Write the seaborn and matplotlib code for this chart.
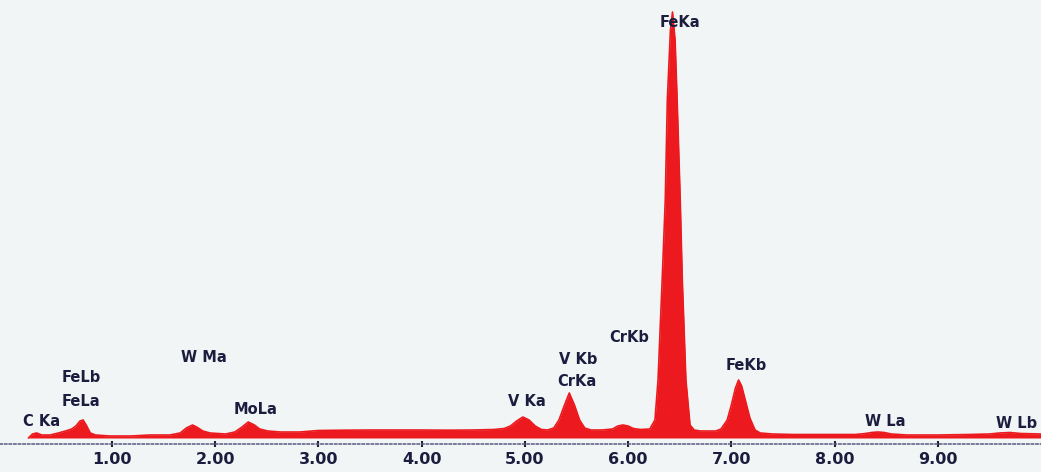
import numpy as np
import pandas as pd
import matplotlib
matplotlib.use("Agg")
import matplotlib.pyplot as plt
import seaborn as sns

# Spectrum (energy in keV, counts)
energy = [
    0.19, 0.23, 0.27, 0.32, 0.40, 0.48, 0.55, 0.61, 0.65, 0.69, 0.72, 0.75, 0.79, 0.84,
    0.98, 1.18, 1.37, 1.56, 1.66, 1.72, 1.78, 1.82, 1.88, 1.95, 2.10, 2.19, 2.26, 2.32,
    2.38, 2.43, 2.51, 2.63, 2.82, 3.00, 3.25, 3.50, 3.75, 4.00, 4.25, 4.50, 4.70, 4.80,
    4.86, 4.92, 4.98, 5.04, 5.10, 5.16, 5.22, 5.28, 5.33, 5.38, 5.43, 5.48, 5.53, 5.58,
    5.64, 5.75, 5.85, 5.90, 5.95, 6.00, 6.05, 6.12, 6.21, 6.26, 6.29, 6.33, 6.36, 6.38,
    6.41, 6.43, 6.455, 6.475, 6.505, 6.525, 6.56, 6.60, 6.64, 6.70, 6.85, 6.90, 6.96,
    7.00, 7.04, 7.07, 7.10, 7.14, 7.18, 7.23, 7.28, 7.40, 7.60, 7.80, 8.00, 8.20, 8.30,
    8.36, 8.42, 8.48, 8.55, 8.70, 9.00, 9.30, 9.50, 9.60, 9.70, 9.80, 10.00,
]
counts = [
    0, 40, 50, 30, 30, 50, 70, 90, 120, 170, 180, 130, 50, 30,
    20, 20, 30, 30, 50, 100, 130, 110, 70, 50, 40, 60, 110, 160,
    130, 90, 70, 60, 60, 75, 78, 80, 80, 80, 78, 80, 85, 95,
    120, 170, 210, 180, 120, 85, 80, 100, 180, 320, 450, 330, 180, 100,
    80, 80, 90, 120, 130, 120, 95, 85, 90, 180, 580, 1580, 2380, 3380,
    4080, 4260, 3980, 3380, 2380, 1580, 580, 130, 80, 70, 70, 90, 180,
    330, 500, 580, 520, 360, 200, 80, 50, 40, 35, 35, 35, 35, 45,
    55, 60, 55, 40, 30, 30, 35, 40, 50, 55, 45, 40,
]

# Peak labels
peak_names = ["C Ka", "FeLb", "FeLa", "W Ma", "MoLa", "V Ka", "V Kb",
              "CrKa", "CrKb", "FeKa", "FeKb", "W La", "W Lb"]
peak_x = [0.32, 0.70, 0.70, 1.89, 2.39, 5.02, 5.52, 5.50, 6.01, 6.50, 7.14, 8.49, 9.76]
peak_y = [160, 600, 370, 810, 290, 360, 790, 570, 1010, 4160, 720, 170, 150]

tick_values = [1, 2, 3, 4, 5, 6, 7, 8, 9]

df = pd.DataFrame({"energy": energy, "counts": counts})

sns.set_theme(style="white")
plt.rcParams["font.family"] = ["DejaVu Sans"]

bg = "#f1f5f6"
red = "#ec1a1e"
ink = "#1c1c3e"

fig = plt.figure(figsize=(10.41, 4.72), dpi=100)
fig.patch.set_facecolor(bg)
ax = fig.add_axes([0, 0, 1, 1])
ax.set_facecolor(bg)

ax.fill_between(df["energy"], 0, df["counts"], color=red, linewidth=0)
sns.lineplot(data=df, x="energy", y="counts", ax=ax, color=red, linewidth=1.2)

for name, x, y in zip(peak_names, peak_x, peak_y):
    ax.text(x, y, name, ha="center", va="center", fontsize=10.5,
            fontweight="bold", color=ink)

ax.set_xlim(-0.085, 10.0)
ax.set_ylim(-340, 4380)

for side in ["top", "right", "left"]:
    ax.spines[side].set_visible(False)
ax.spines["bottom"].set_position(("data", -60))
ax.spines["bottom"].set_linestyle((0, (1.5, 1.5)))
ax.spines["bottom"].set_color("#5a5a80")
ax.spines["bottom"].set_linewidth(1.1)

ax.set_xticks(tick_values)
ax.set_xticklabels([f"{v:.2f}" for v in tick_values])
ax.tick_params(axis="x", bottom=True, direction="inout", length=5, width=1.5,
               color="#202030", pad=3, labelsize=11.5, labelcolor=ink)
for lbl in ax.get_xticklabels():
    lbl.set_fontweight("bold")
ax.set_yticks([])
ax.set_xlabel("")
ax.set_ylabel("")

fig.savefig("out.png", dpi=100, facecolor=bg)
